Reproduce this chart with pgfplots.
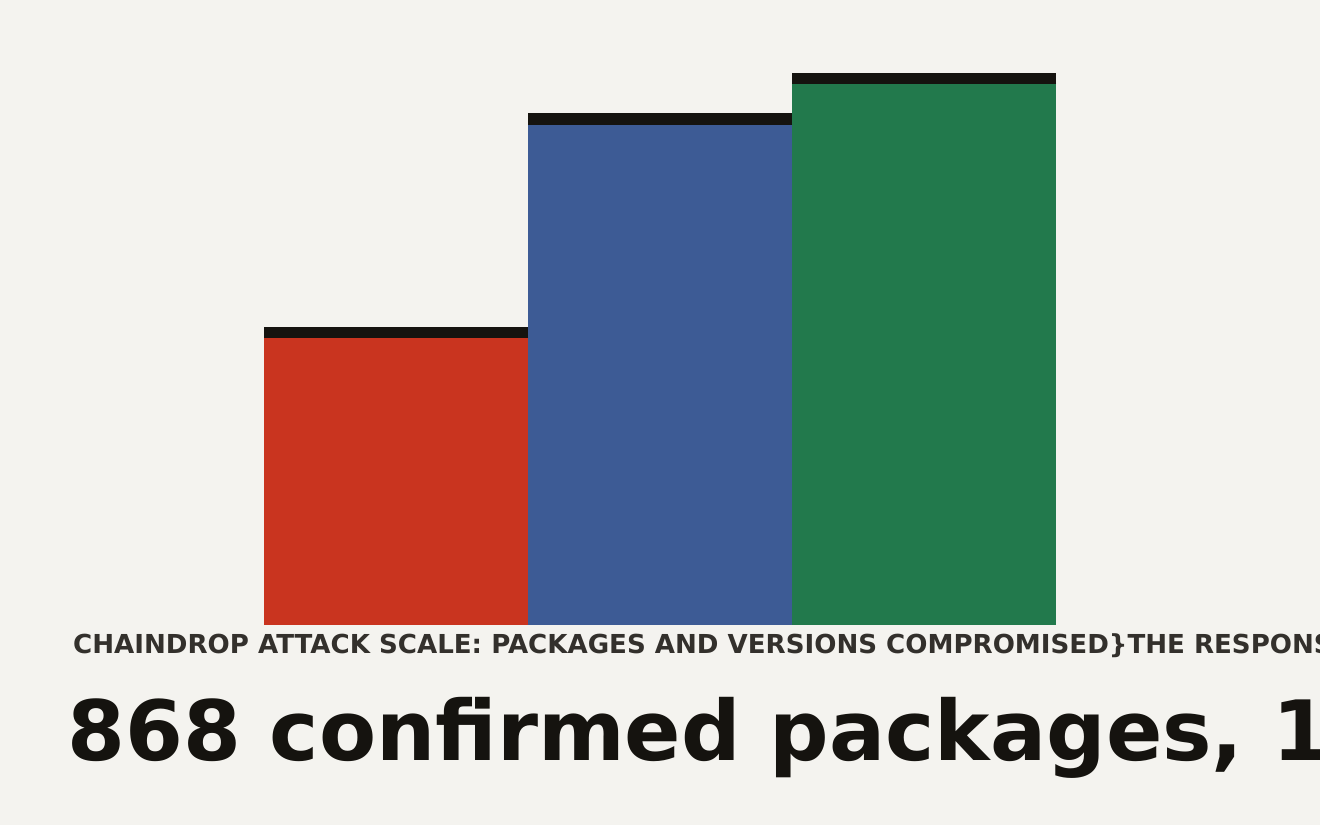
\documentclass[border=0pt]{standalone}
\usepackage{pgfplots}
\pgfplotsset{compat=1.18}
\usepackage{fontspec}
\setmainfont{DejaVu Sans}
\definecolor{bg}{HTML}{F4F3EF}
\definecolor{cred}{HTML}{C9341F}
\definecolor{cblue}{HTML}{3D5B95}
\definecolor{cgreen}{HTML}{22794C}
\definecolor{ink}{HTML}{15130F}
\definecolor{subink}{HTML}{33302C}
\begin{document}
\begin{tikzpicture}[x=1pt,y=1pt]
\useasboundingbox (0,0) rectangle (1320,825);
\fill[bg] (0,0) rectangle (1320,825);
\clip (0,0) rectangle (1320,825);
\begin{axis}[
  at={(264pt,200pt)}, anchor=south west,
  x=264pt, y=0.343318pt,
  xmin=-0.5, xmax=2.5, ymin=0, ymax=1700,
  hide axis, clip=false,
  ybar, bar width=1, bar shift=0pt,
]
\addplot[fill=cred, draw=none] coordinates {(0,868)};
\addplot[fill=cblue, draw=none] coordinates {(1,1491)};
\addplot[fill=cgreen, draw=none] coordinates {(2,1608)};
\addplot[only marks, mark=-, mark size=132pt,
  mark options={draw=ink, line width=11.5pt, yshift=-5.75pt}]
  coordinates {(0,868) (1,1491) (2,1608)};
\end{axis}
\node[anchor=base west, inner sep=0, text=subink,
  font=\fontsize{26.1}{26.1}\selectfont\bfseries] at (73,171)
  {CHAINDROP ATTACK SCALE: PACKAGES AND VERSIONS COMPROMISED\}THE RESPONSE};
\node[anchor=base west, inner sep=0, text=ink,
  font=\fontsize{83.2}{83.2}\selectfont\bfseries] at (67,65)
  {868 confirmed packages, 1,000+ versions};
\end{tikzpicture}
\end{document}
